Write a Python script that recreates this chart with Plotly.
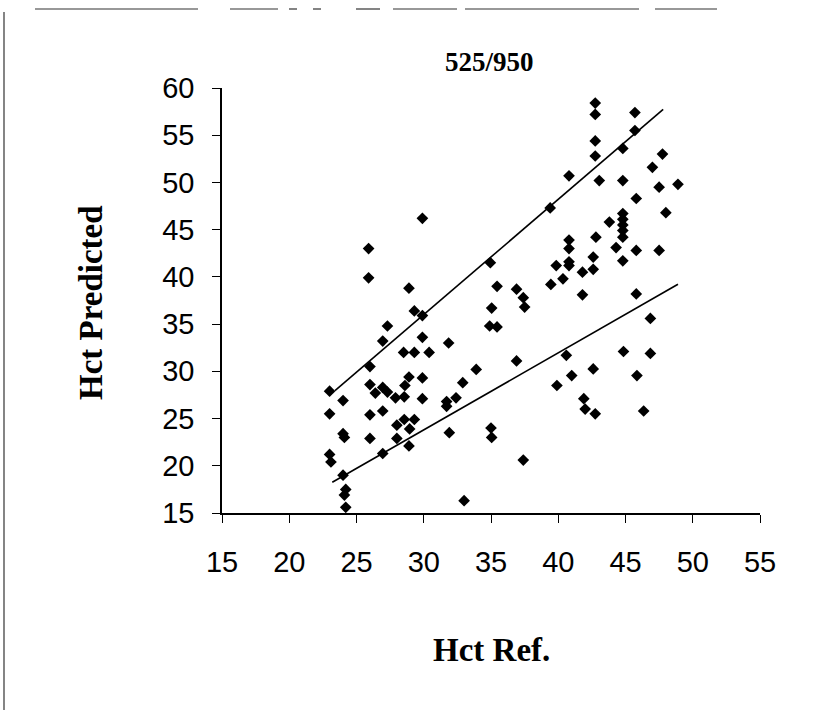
import numpy as np
import plotly.graph_objects as go

# Reference haematocrit (x) vs predicted haematocrit (y), 525/950 nm ratio
hct_ref = [
    23.0, 23.0, 23.0, 23.1,
    24.0, 24.0, 24.1, 24.0, 24.2, 24.1, 24.2,
    25.9, 25.9, 26.0, 26.0, 26.0, 26.0, 26.4,
    27.3, 26.95, 26.95, 27.3, 26.95, 26.95,
    27.9, 28.0, 28.0, 28.5, 28.6, 28.55, 28.9, 28.55, 29.3, 28.95, 28.9, 28.9,
    29.3, 29.3, 29.9, 29.9, 29.9, 29.9, 29.9, 30.4,
    31.85, 31.7, 31.7, 32.4, 31.9, 32.9, 33.0, 33.9,
    34.95, 35.45, 35.05, 34.9, 35.45, 35.0, 35.05,
    36.9, 37.4, 37.5, 36.9, 37.4,
    39.4, 39.45, 39.85, 40.35, 39.9,
    40.8, 40.8, 40.8, 40.8, 40.8, 40.6, 41.0,
    41.8, 41.8, 41.9, 42.0, 42.6, 42.6, 42.6, 42.75,
    42.75, 42.75, 42.75, 42.75, 43.05, 42.8,
    43.8, 44.3, 44.8, 44.8, 44.8, 44.8, 44.8, 44.8, 44.8, 44.8, 44.85,
    45.7, 45.7, 45.8, 45.8, 45.8, 45.85, 46.35,
    46.85, 46.85, 47.0, 47.5, 47.5, 47.75, 48.0, 48.9,
]
hct_pred = [
    27.9, 25.5, 21.2, 20.4,
    26.9, 23.4, 23.0, 19.0, 17.5, 16.9, 15.6,
    43.0, 39.9, 30.5, 28.6, 25.4, 22.9, 27.7,
    34.8, 33.2, 28.3, 27.8, 25.8, 21.3,
    27.2, 24.3, 22.9, 32.0, 28.5, 27.3, 29.4, 24.9, 24.9, 23.9, 22.1, 38.8,
    32.0, 36.4, 46.2, 35.9, 33.6, 29.3, 27.1, 32.0,
    33.0, 26.8, 26.3, 27.2, 23.5, 28.8, 16.3, 30.2,
    41.5, 39.0, 36.7, 34.8, 34.7, 24.0, 23.0,
    38.7, 37.8, 36.8, 31.1, 20.6,
    47.3, 39.2, 41.2, 39.8, 28.5,
    50.7, 43.9, 43.0, 41.6, 41.2, 31.7, 29.55,
    40.5, 38.1, 27.1, 26.0, 42.1, 40.8, 30.25, 25.5,
    58.4, 57.2, 54.4, 52.8, 50.2, 44.2,
    45.8, 43.1, 53.6, 50.2, 46.7, 46.1, 45.5, 44.9, 44.2, 41.7, 32.1,
    57.4, 55.5, 48.3, 42.8, 38.2, 29.55, 25.8,
    35.6, 31.9, 51.6, 49.5, 42.8, 53.0, 46.8, 49.8,
]

# Two straight-line fits drawn over the scatter
fit_slope = [1.22, 0.816]
fit_intercept = [-0.59, -0.68]
fit_x_start = [23.4, 23.2]
fit_x_end = [47.8, 48.9]

x_ticks = [15, 20, 25, 30, 35, 40, 45, 50, 55]
y_ticks = [15, 20, 25, 30, 35, 40, 45, 50, 55, 60]

fig = go.Figure()

fig.add_trace(go.Scatter(
    x=hct_ref, y=hct_pred, mode="markers",
    marker=dict(symbol="diamond", size=9, color="black", line=dict(width=0)),
    showlegend=False, hoverinfo="x+y",
))

for m, b, x0, x1 in zip(fit_slope, fit_intercept, fit_x_start, fit_x_end):
    xs = np.array([x0, x1])
    fig.add_trace(go.Scatter(
        x=xs, y=m * xs + b, mode="lines",
        line=dict(color="black", width=1.6),
        showlegend=False, hoverinfo="skip",
    ))

tick_font = dict(family="Liberation Sans, Arial, sans-serif", size=29, color="black")
title_font = dict(family="Liberation Serif, Times New Roman, serif", color="black")

axis_common = dict(
    showline=True, linecolor="black", linewidth=1.5,
    ticks="outside", ticklen=8, tickwidth=1.2, tickcolor="black",
    showgrid=False, zeroline=False, tickfont=tick_font,
)

fig.update_layout(
    width=838, height=710,
    margin=dict(l=222, r=78, t=88, b=197),
    paper_bgcolor="white", plot_bgcolor="white",
    xaxis=dict(range=[15, 55], tickvals=x_ticks, ticklabelstandoff=14, **axis_common),
    yaxis=dict(range=[15, 60], tickvals=y_ticks, ticklabelstandoff=12, **axis_common),
    annotations=[
        dict(text="<b>525/950</b>", x=0.498, y=1.061, xref="paper", yref="paper",
             xanchor="center", yanchor="middle",
             showarrow=False, font=dict(size=27, **title_font)),
        dict(text="<b>Hct Predicted</b>", x=-0.2435, y=0.4965, xref="paper", yref="paper",
             xanchor="center", yanchor="middle",
             showarrow=False, textangle=-90, font=dict(size=33, **title_font)),
        dict(text="<b>Hct Ref.</b>", x=0.501, y=-0.322, xref="paper", yref="paper",
             xanchor="center", yanchor="middle",
             showarrow=False, font=dict(size=33, **title_font)),
    ],
)

# Page frame: broken rule across the top and a rule down the left edge
top_rule_segments = [(35, 198), (230, 278), (289, 297), (313, 321),
                     (356, 380), (393, 457), (465, 639), (655, 717)]
shapes = []
for a, c in top_rule_segments:
    shapes.append(dict(type="line", xref="paper", yref="paper",
                       x0=(a - 222) / 538, x1=(c - 222) / 538,
                       y0=(710 - 197 - 9) / 425, y1=(710 - 197 - 9) / 425,
                       line=dict(color="#333", width=1.2)))
shapes.append(dict(type="line", xref="paper", yref="paper",
                   x0=(4 - 222) / 538, x1=(4 - 222) / 538,
                   y0=(710 - 197 - 12) / 425, y1=(710 - 197 - 710) / 425,
                   line=dict(color="#333", width=1.2)))
fig.update_layout(shapes=shapes)

fig.write_html("out.html")
